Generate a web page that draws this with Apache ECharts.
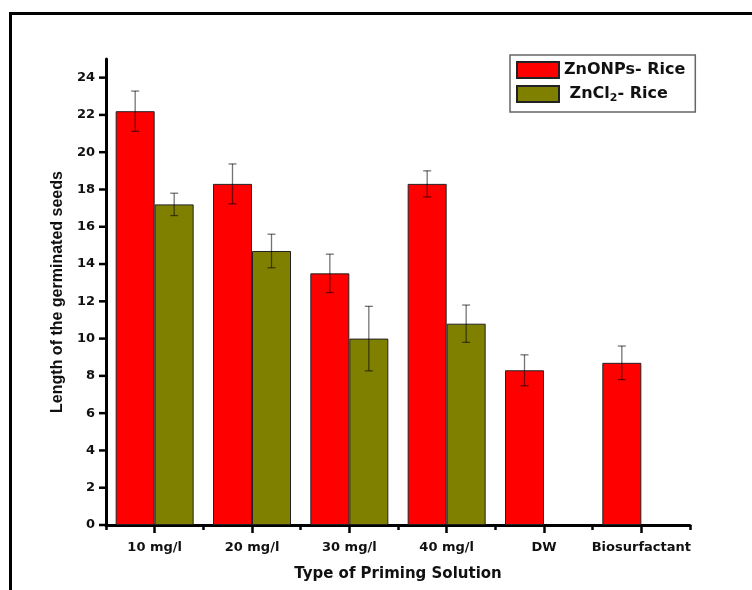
<!DOCTYPE html>
<html>
<head>
<meta charset="utf-8">
<style>
  html, body { margin: 0; padding: 0; background: #fff; }
  #chart { width: 752px; height: 590px; }
</style>
<script src="https://cdn.jsdelivr.net/npm/echarts@6/dist/echarts.min.js"></script>
</head>
<body>
<div id="chart"></div>
<script>
// Priming solutions tested
const categories = ['10 mg/l', '20 mg/l', '30 mg/l', '40 mg/l', 'DW', 'Biosurfactant'];

// Mean germinated seed length and standard error, ZnO nanoparticles
const znoMeans = [22.2, 18.3, 13.5, 18.3, 8.3, 8.7];
const znoErrors = [1.08, 1.07, 1.03, 0.7, 0.83, 0.9];

// Mean germinated seed length and standard error, ZnCl2 (no DW / biosurfactant runs)
const zncl2Means = [17.2, 14.7, 10.0, 10.8, null, null];
const zncl2Errors = [0.6, 0.9, 1.73, 1.0, null, null];

// Y-axis tick values
const yTicks = [0, 2, 4, 6, 8, 10, 12, 14, 16, 18, 20, 22, 24];

const BAR_W = 39;
const wideFont = 'DejaVu Sans';
const narrowFont = '"Liberation Sans", Arial, sans-serif';

function errorData(means, errs) {
  return means.map((m, i) => (m == null ? [i, '-', '-'] : [i, m, errs[i]]));
}

// Error whiskers with caps, shifted onto the centre of each bar in the pair
function errorRenderer(offset) {
  return function (params, api) {
    const y = api.value(1);
    const e = api.value(2);
    if (isNaN(y) || isNaN(e)) return;
    const hi = api.coord([api.value(0), y + e]);
    const lo = api.coord([api.value(0), y - e]);
    const x = hi[0] + offset;
    const cap = 4;
    const style = { stroke: 'rgba(0,0,0,0.55)', lineWidth: 1.3 };
    return {
      type: 'group',
      children: [
        { type: 'line', shape: { x1: x, y1: hi[1], x2: x, y2: lo[1] }, style },
        { type: 'line', shape: { x1: x - cap, y1: hi[1], x2: x + cap, y2: hi[1] }, style },
        { type: 'line', shape: { x1: x - cap, y1: lo[1], x2: x + cap, y2: lo[1] }, style }
      ]
    };
  };
}

// Outward tick marks on the value axis, placed through the y scale
function yTickRenderer(params, api) {
  const p = api.coord([0, api.value(1)]);
  const axisX = p[0] - api.size([1, 0])[0] / 2;
  return {
    type: 'rect',
    shape: { x: axisX - 7, y: p[1] - 1.25, width: 7, height: 2.5 },
    style: { fill: '#000' }
  };
}

const chart = echarts.init(document.getElementById('chart'), null, { renderer: 'canvas' });

chart.setOption({
  backgroundColor: '#ffffff',
  animation: false,
  grid: { left: 106, right: 62, top: 59, bottom: 65, containLabel: false },
  legend: {
    orient: 'vertical',
    left: 510,
    top: 55,
    padding: [6, 10, 8, 6],
    borderColor: '#666',
    borderWidth: 1.5,
    icon: 'rect',
    itemWidth: 42,
    itemHeight: 16,
    itemGap: 6,
    data: ['ZnONPs- Rice', 'ZnCl2- Rice'],
    formatter: function (name) {
      if (name === 'ZnCl2- Rice') return ' {t|ZnCl}{s|2}{t|- Rice}';
      return '{t|' + name + '}';
    },
    textStyle: {
      fontFamily: wideFont,
      fontWeight: 'bold',
      fontSize: 16,
      color: '#111',
      rich: {
        t: { fontFamily: wideFont, fontWeight: 'bold', fontSize: 16, color: '#111' },
        s: { fontFamily: wideFont, fontWeight: 'bold', fontSize: 11, color: '#111', padding: [9, 0, 0, 0] }
      }
    }
  },
  xAxis: [
    {
      type: 'category',
      data: categories,
      position: 'bottom',
      name: 'Type of Priming Solution',
      nameLocation: 'middle',
      nameGap: 42,
      nameTextStyle: { fontFamily: wideFont, fontWeight: 'bold', fontSize: 15, color: '#111' },
      axisLine: { show: true, lineStyle: { color: '#000', width: 3 } },
      axisTick: { show: true, interval: 0, alignWithLabel: true, length: 8, lineStyle: { color: '#000', width: 2.5 } },
      axisLabel: { show: true, interval: 0, margin: 16, fontFamily: wideFont, fontWeight: 'bold', fontSize: 13, color: '#111' }
    },
    {
      // boundary ticks between groups
      type: 'category',
      data: categories,
      position: 'bottom',
      axisLine: { show: false },
      axisTick: { show: true, interval: 0, alignWithLabel: false, length: 5, lineStyle: { color: '#000', width: 2.5 } },
      axisLabel: { show: false }
    }
  ],
  yAxis: {
    type: 'value',
    position: 'left',
    min: 0,
    max: 25,
    interval: 2,
    name: 'Length of the germinated seeds',
    nameLocation: 'middle',
    nameGap: 40,
    nameTextStyle: { fontFamily: narrowFont, fontWeight: 'bold', fontSize: 16, color: '#111' },
    splitLine: { show: false },
    axisLine: { show: true, lineStyle: { color: '#000', width: 3 } },
    axisTick: { show: false },
    axisLabel: {
      margin: 11,
      showMaxLabel: false,
      formatter: v => (yTicks.indexOf(v) >= 0 ? String(v) : ''),
      fontFamily: wideFont, fontWeight: 'bold', fontSize: 13, color: '#111'
    }
  },
  series: [
    {
      name: 'ZnONPs- Rice',
      type: 'bar',
      data: znoMeans,
      barWidth: BAR_W,
      barGap: '0%',
      itemStyle: { color: '#ff0000', borderColor: '#222', borderWidth: 1 }
    },
    {
      name: 'ZnCl2- Rice',
      type: 'bar',
      data: zncl2Means.map(v => (v == null ? '-' : v)),
      barWidth: BAR_W,
      barGap: '0%',
      itemStyle: { color: '#808000', borderColor: '#222', borderWidth: 1 }
    },
    {
      type: 'custom',
      renderItem: errorRenderer(-BAR_W / 2),
      data: errorData(znoMeans, znoErrors),
      encode: { x: 0, y: 1 },
      z: 5,
      silent: true
    },
    {
      type: 'custom',
      renderItem: errorRenderer(BAR_W / 2),
      data: errorData(zncl2Means, zncl2Errors),
      encode: { x: 0, y: 1 },
      z: 5,
      silent: true
    },
    {
      type: 'custom',
      renderItem: yTickRenderer,
      data: yTicks.map(v => [0, v]),
      encode: { x: 0, y: 1 },
      clip: false,
      z: 6,
      silent: true
    }
  ],
  graphic: [
    {
      // outer frame
      type: 'rect',
      shape: { x: 10.5, y: 13.5, width: 800, height: 700 },
      style: { fill: 'none', stroke: '#000', lineWidth: 3 },
      silent: true
    }
  ]
});
</script>
</body>
</html>
